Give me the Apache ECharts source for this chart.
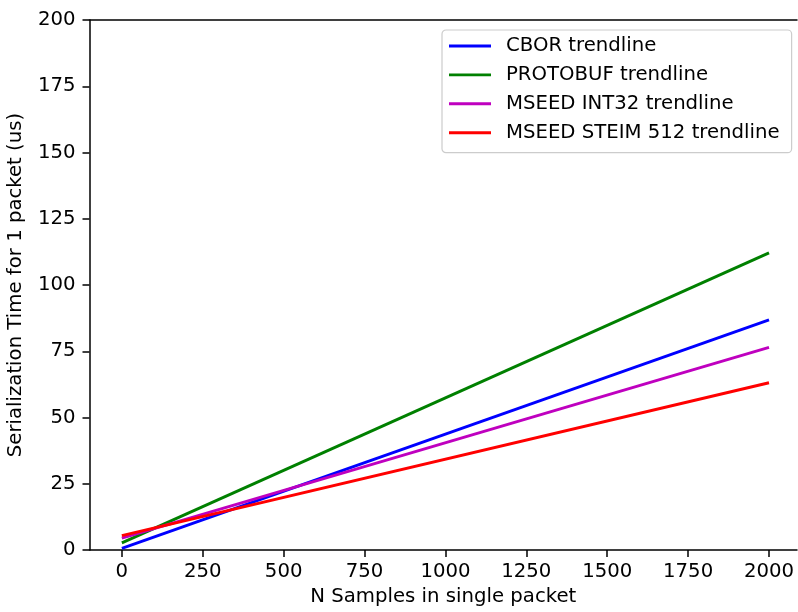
<!DOCTYPE html>
<html>
<head>
<meta charset="utf-8">
<script src="https://cdn.jsdelivr.net/npm/echarts@6/dist/echarts.min.js"></script>
<style>
  html, body { margin: 0; padding: 0; background: #fff; }
  #chart { width: 798px; height: 612px; }
</style>
</head>
<body>
<div id="chart"></div>
<script>
// Linear trendlines of serialization time vs. samples per packet
const sampleCounts = [0, 2000];
const cborTrend = [0.6, 86.8];
const protobufTrend = [2.7, 112.1];
const mseedInt32Trend = [4.5, 76.5];
const mseedSteimTrend = [5.4, 63.1];

const xTicks = [0, 250, 500, 750, 1000, 1250, 1500, 1750, 2000];
const xMin = -100;
const xMax = 2086.5;

const seriesDefs = [
  { name: 'CBOR trendline', values: cborTrend, color: '#0000ff' },
  { name: 'PROTOBUF trendline', values: protobufTrend, color: '#008000' },
  { name: 'MSEED INT32 trendline', values: mseedInt32Trend, color: '#bf00bf' },
  { name: 'MSEED STEIM 512 trendline', values: mseedSteimTrend, color: '#ff0000' }
];

const font = 'DejaVu Sans';
const fs = 19.7;
const chart = echarts.init(document.getElementById('chart'), null, { renderer: 'canvas' });

chart.setOption({
  animation: false,
  backgroundColor: '#ffffff',
  textStyle: { fontFamily: font },
  grid: {
    left: 89.5, top: 20, right: 1, bottom: 62,
    outerBoundsMode: 'none',
    containLabel: false,
    show: false
  },
  legend: {
    orient: 'vertical',
    left: 442, top: 30,
    padding: [5, 12, 9, 7],
    icon: 'rect',
    itemWidth: 42, itemHeight: 2.9, itemGap: 6.9,
    backgroundColor: '#fff',
    borderColor: '#cccccc', borderWidth: 1.2, borderRadius: 4,
    textStyle: { fontFamily: font, fontSize: fs, lineHeight: 22, color: '#000', padding: [0, 0, 0, 10] },
    data: seriesDefs.map(s => s.name)
  },
  xAxis: [{
    type: 'value',
    min: xMin, max: xMax,
    name: 'N Samples in single packet',
    nameLocation: 'middle', nameGap: 37,
    nameTextStyle: { fontFamily: font, fontSize: fs, color: '#000' },
    splitLine: { show: false },
    axisLine: { onZero: false, lineStyle: { color: '#000', width: 1.5 } },
    axisTick: { show: true, length: 7, lineStyle: { color: '#000', width: 1.5 }, customValues: xTicks },
    axisLabel: {
      fontFamily: font, fontSize: fs, color: '#000', margin: 12,
      customValues: xTicks,
      formatter: v => String(v)
    }
  }, {
    // top frame line
    type: 'value',
    position: 'top',
    min: xMin, max: xMax,
    splitLine: { show: false },
    axisLine: { show: true, onZero: false, lineStyle: { color: '#000', width: 1.5 } },
    axisTick: { show: false },
    axisLabel: { show: false }
  }],
  yAxis: {
    type: 'value',
    min: 0, max: 200, interval: 25,
    name: 'Serialization Time for 1 packet (us)',
    nameLocation: 'middle', nameGap: 64,
    nameTextStyle: { fontFamily: font, fontSize: fs, color: '#000' },
    splitLine: { show: false },
    axisLine: { show: true, onZero: false, lineStyle: { color: '#000', width: 1.5 } },
    axisTick: { show: true, length: 7, lineStyle: { color: '#000', width: 1.5 } },
    axisLabel: { fontFamily: font, fontSize: fs, color: '#000', margin: 14 }
  },
  series: seriesDefs.map(s => ({
    name: s.name,
    type: 'line',
    xAxisIndex: 0,
    data: sampleCounts.map((x, i) => [x, s.values[i]]),
    symbol: 'none',
    showSymbol: false,
    color: s.color,
    lineStyle: { color: s.color, width: 2.9 }
  }))
});
</script>
</body>
</html>
